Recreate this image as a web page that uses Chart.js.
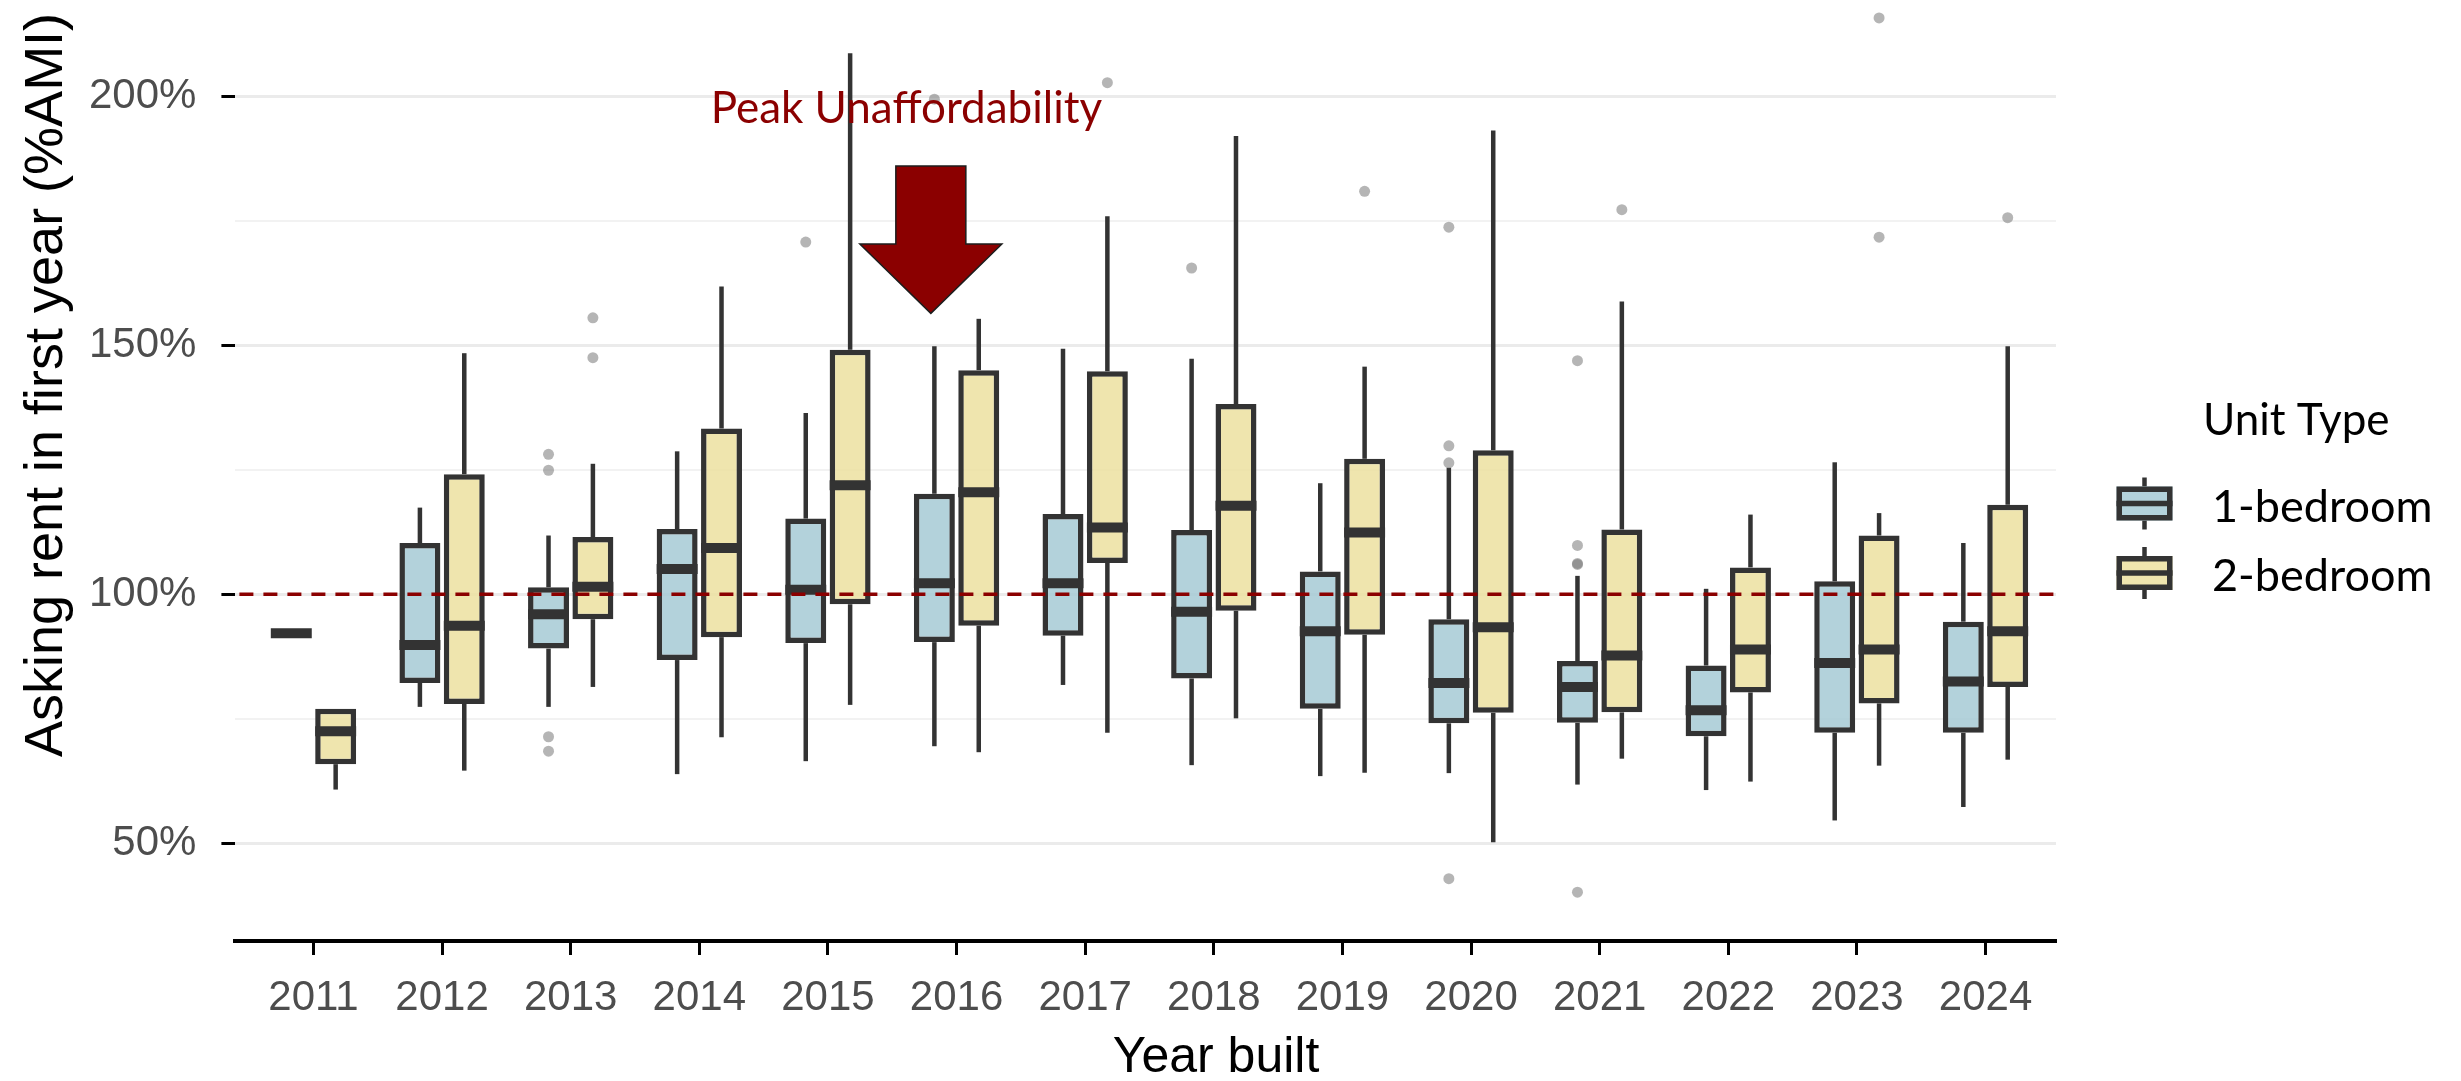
<!DOCTYPE html>
<html>
<head>
<meta charset="utf-8">
<script src="https://cdn.jsdelivr.net/npm/chart.js@4.4.1/dist/chart.umd.min.js"></script>
<style>
  html, body { margin: 0; padding: 0; background: #ffffff; }
  canvas { display: block; }
</style>
</head>
<body>
<canvas id="chart" width="2461" height="1081"></canvas>
<script>
// ---- Data -------------------------------------------------------------
const years = [2011, 2012, 2013, 2014, 2015, 2016, 2017, 2018, 2019, 2020, 2021, 2022, 2023, 2024];

// 1-bedroom: five-number summaries of first-year asking rent (% of AMI)
const oneBedMin    = [92.2, 77.4, 77.4, 63.9, 66.5, 69.5, 81.8, 65.7, 63.5, 64.1, 61.8, 60.7, 54.6, 57.3];
const oneBedQ1     = [92.2, 82.2, 89.1, 86.8, 90.2, 90.4, 91.7, 83.1, 77.0, 74.1, 74.2, 71.5, 72.2, 72.2];
const oneBedMedian = [92.2, 89.8, 96.0, 105.1, 100.9, 102.2, 102.2, 96.5, 92.6, 82.2, 81.4, 76.7, 86.2, 82.5];
const oneBedQ3     = [92.2, 110.3, 101.4, 113.1, 115.2, 120.2, 116.1, 112.9, 104.6, 95.0, 86.6, 85.7, 102.6, 94.5];
const oneBedMax    = [92.2, 117.4, 111.8, 128.7, 136.4, 149.8, 149.3, 147.3, 122.3, 125.4, 103.7, 101.1, 126.5, 110.3];
const oneBedOutliers = [
  [], [], [128.1, 124.9, 71.4, 68.5], [], [170.7], [199.4], [], [165.5], [],
  [173.7, 129.8, 126.4, 42.9], [146.9, 109.8, 106.0, 106.2, 40.2], [], [], []
];

// 2-bedroom
const twoBedMin    = [60.8, 64.6, 81.4, 71.3, 77.8, 68.3, 72.2, 75.1, 64.2, 50.2, 67.0, 62.4, 65.6, 66.8];
const twoBedQ1     = [65.9, 78.0, 95.0, 91.4, 98.0, 93.7, 106.3, 96.7, 91.9, 76.2, 76.3, 80.3, 78.1, 81.4];
const twoBedMedian = [72.5, 93.7, 101.5, 109.3, 121.9, 120.5, 113.4, 117.8, 112.4, 93.4, 87.7, 88.9, 88.9, 92.6];
const twoBedQ3     = [77.0, 124.1, 111.5, 133.3, 149.1, 145.0, 144.8, 138.2, 127.2, 128.9, 113.0, 105.4, 111.8, 118.0];
const twoBedMax    = [77.0, 148.4, 126.2, 161.8, 208.6, 155.3, 175.9, 192.0, 145.7, 193.1, 158.8, 116.0, 116.3, 149.8];
const twoBedOutliers = [
  [], [], [155.5, 147.5], [], [], [], [202.7], [], [180.9], [], [177.2], [], [215.7, 171.7], [175.6]
];

const seriesNames = ['1-bedroom', '2-bedroom'];
const yTickValues = [50, 75, 100, 125, 150, 175, 200];
const yTickLabels = ['50%', '', '100%', '', '150%', '', '200%'];
const affordabilityLevel = 100;

const xTitle = 'Year built';
const yTitle = 'Asking rent in first year (%AMI)';
const legendTitle = 'Unit Type';
const annotationText = 'Peak Unaffordability';

// ---- Styling ----------------------------------------------------------
const fills = ['rgba(166,202,213,0.85)', 'rgba(236,224,160,0.85)'];
const outline = '#333333';
const darkRed = '#8B0000';
const axisFont = '"Liberation Sans", Arial, Helvetica, sans-serif';
const humanistFont = 'Lato, "Open Sans", sans-serif';

// annotation placement (data units for anchor points)
const note = {
  textX: 2015.61, textY: 194.6,
  arrowX: 2015.80, arrowTop: 186.0, arrowShoulder: 170.3, arrowTip: 156.4,
  shaftHalf: 35, headHalf: 71
};

function boxData(q1, q3) {
  return years.map((yr, i) => ({ x: yr, y: [q1[i], q3[i]] }));
}

const datasets = [
  {
    label: seriesNames[0],
    data: boxData(oneBedQ1, oneBedQ3),
    stats: { min: oneBedMin, median: oneBedMedian, max: oneBedMax, outliers: oneBedOutliers }
  },
  {
    label: seriesNames[1],
    data: boxData(twoBedQ1, twoBedQ3),
    stats: { min: twoBedMin, median: twoBedMedian, max: twoBedMax, outliers: twoBedOutliers }
  }
].map((ds, k) => Object.assign(ds, {
  backgroundColor: fills[k],
  borderColor: outline,
  borderWidth: 5.5,
  borderSkipped: false,
  categoryPercentage: 0.69,
  barPercentage: 0.923
}));

// ---- Plugins ----------------------------------------------------------
function line(ctx, x1, y1, x2, y2) {
  ctx.beginPath();
  ctx.moveTo(x1, y1);
  ctx.lineTo(x2, y2);
  ctx.stroke();
}

// whiskers, medians, outliers and the 100% reference line
const boxExtras = {
  id: 'boxExtras',
  afterDatasetsDraw(chart) {
    const { ctx, scales: { y }, chartArea } = chart;
    ctx.save();
    chart.data.datasets.forEach((ds, di) => {
      const meta = chart.getDatasetMeta(di);
      meta.data.forEach((bar, i) => {
        const x = bar.x;
        const half = bar.width / 2;
        const pQ1 = y.getPixelForValue(ds.data[i].y[0]);
        const pQ3 = y.getPixelForValue(ds.data[i].y[1]);
        const pMin = y.getPixelForValue(ds.stats.min[i]);
        const pMax = y.getPixelForValue(ds.stats.max[i]);
        const pMed = y.getPixelForValue(ds.stats.median[i]);
        ctx.strokeStyle = outline;
        ctx.lineCap = 'butt';
        ctx.lineWidth = 4.5;
        if (pMax < pQ3) line(ctx, x, pQ3, x, pMax);
        if (pMin > pQ1) line(ctx, x, pQ1, x, pMin);
        ctx.lineWidth = 10;
        line(ctx, x - half, pMed, x + half, pMed);
        ctx.fillStyle = 'rgba(120,120,120,0.55)';
        ds.stats.outliers[i].forEach(v => {
          ctx.beginPath();
          ctx.arc(x, y.getPixelForValue(v), 5.5, 0, Math.PI * 2);
          ctx.fill();
        });
      });
    });
    // dashed affordability line
    const py = y.getPixelForValue(affordabilityLevel);
    ctx.strokeStyle = darkRed;
    ctx.lineWidth = 3.5;
    ctx.setLineDash([14, 10]);
    line(ctx, chartArea.left + 4, py, chartArea.right, py);
    ctx.setLineDash([]);
    ctx.restore();
  }
};

// axis titles, legend and annotation
const decorations = {
  id: 'decorations',
  afterDraw(chart) {
    const { ctx, scales: { x, y } } = chart;
    ctx.save();

    // axis titles
    ctx.fillStyle = '#000000';
    ctx.font = `50px ${axisFont}`;
    ctx.textAlign = 'center';
    ctx.textBaseline = 'alphabetic';
    ctx.fillText(xTitle, 1216, 1072);
    ctx.save();
    ctx.translate(62, 385);
    ctx.rotate(-Math.PI / 2);
    ctx.font = `54px ${axisFont}`;
    ctx.fillText(yTitle, 0, 0);
    ctx.restore();

    // legend
    ctx.textAlign = 'left';
    ctx.font = `44px ${humanistFont}`;
    ctx.fillText(legendTitle, 2203, 435);
    const keyX = 2144.5, keyW = 56, keyH = 34;
    [503.5, 573].forEach((cy, k) => {
      const x0 = keyX - keyW / 2, y0 = cy - keyH / 2;
      ctx.strokeStyle = outline;
      ctx.lineWidth = 4.5;
      line(ctx, keyX, y0 - 9, keyX, y0);
      line(ctx, keyX, y0 + keyH, keyX, y0 + keyH + 9);
      ctx.fillStyle = fills[k];
      ctx.fillRect(x0, y0, keyW, keyH);
      ctx.lineWidth = 5.5;
      ctx.strokeRect(x0 + 2.75, y0 + 2.75, keyW - 5.5, keyH - 5.5);
      line(ctx, x0, cy, x0 + keyW, cy);
      ctx.fillStyle = '#000000';
      ctx.font = `45px ${humanistFont}`;
      ctx.fillText(chart.data.datasets[k].label, 2212, cy + 18);
    });

    // annotation arrow
    const ax = x.getPixelForValue(note.arrowX);
    const aTop = y.getPixelForValue(note.arrowTop);
    const aSh = y.getPixelForValue(note.arrowShoulder);
    const aTip = y.getPixelForValue(note.arrowTip);
    ctx.beginPath();
    ctx.moveTo(ax - note.shaftHalf, aTop);
    ctx.lineTo(ax + note.shaftHalf, aTop);
    ctx.lineTo(ax + note.shaftHalf, aSh);
    ctx.lineTo(ax + note.headHalf, aSh);
    ctx.lineTo(ax, aTip);
    ctx.lineTo(ax - note.headHalf, aSh);
    ctx.lineTo(ax - note.shaftHalf, aSh);
    ctx.closePath();
    ctx.fillStyle = darkRed;
    ctx.fill();
    ctx.strokeStyle = '#1c1c1c';
    ctx.lineWidth = 1.5;
    ctx.lineJoin = 'miter';
    ctx.stroke();

    // annotation text
    ctx.fillStyle = darkRed;
    ctx.textAlign = 'center';
    ctx.font = `44px ${humanistFont}`;
    ctx.fillText(annotationText, x.getPixelForValue(note.textX), y.getPixelForValue(note.textY));
    ctx.restore();
  }
};

// ---- Chart ------------------------------------------------------------
new Chart(document.getElementById('chart'), {
  type: 'bar',
  data: { datasets },
  options: {
    responsive: false,
    animation: false,
    devicePixelRatio: 1,
    layout: { padding: { top: 3.5, right: 405, bottom: 0, left: 0 } },
    plugins: {
      legend: { display: false },
      tooltip: { enabled: false }
    },
    scales: {
      x: {
        type: 'linear',
        min: 2010.393,
        max: 2024.548,
        offset: false,
        afterBuildTicks: (scale) => { scale.ticks = years.map(v => ({ value: v })); },
        afterFit: (scale) => {
          scale.height = 140;
          scale.paddingLeft = 0;
          scale.paddingRight = 0;
        },
        border: { display: true, color: '#000000', width: 4 },
        grid: {
          offset: false,
          drawOnChartArea: false,
          drawTicks: true,
          tickLength: 14,
          tickColor: '#000000',
          tickWidth: 3
        },
        ticks: {
          autoSkip: false,
          maxRotation: 0,
          padding: 18,
          color: '#4D4D4D',
          font: { family: axisFont, size: 42 },
          callback: (v) => String(v)
        }
      },
      y: {
        min: 30.4,
        max: 218.6,
        afterBuildTicks: (scale) => { scale.ticks = yTickValues.map(v => ({ value: v })); },
        afterFit: (scale) => {
          scale.width = 235.4;
          scale.paddingTop = 0;
          scale.paddingBottom = 0;
        },
        border: { display: false },
        grid: {
          color: (c) => (c.tick && c.tick.value % 50 === 0) ? '#EBEBEB' : '#F2F2F2',
          lineWidth: (c) => (c.tick && c.tick.value % 50 === 0) ? 3 : 2,
          drawTicks: true,
          tickLength: 14,
          tickWidth: 3,
          tickColor: (c) => (c.tick && c.tick.value % 50 === 0) ? '#000000' : 'rgba(0,0,0,0)'
        },
        ticks: {
          padding: 25,
          color: '#4D4D4D',
          font: { family: axisFont, size: 42 },
          callback: (v) => yTickLabels[yTickValues.indexOf(v)]
        }
      }
    }
  },
  plugins: [boxExtras, decorations]
});
</script>
</body>
</html>
